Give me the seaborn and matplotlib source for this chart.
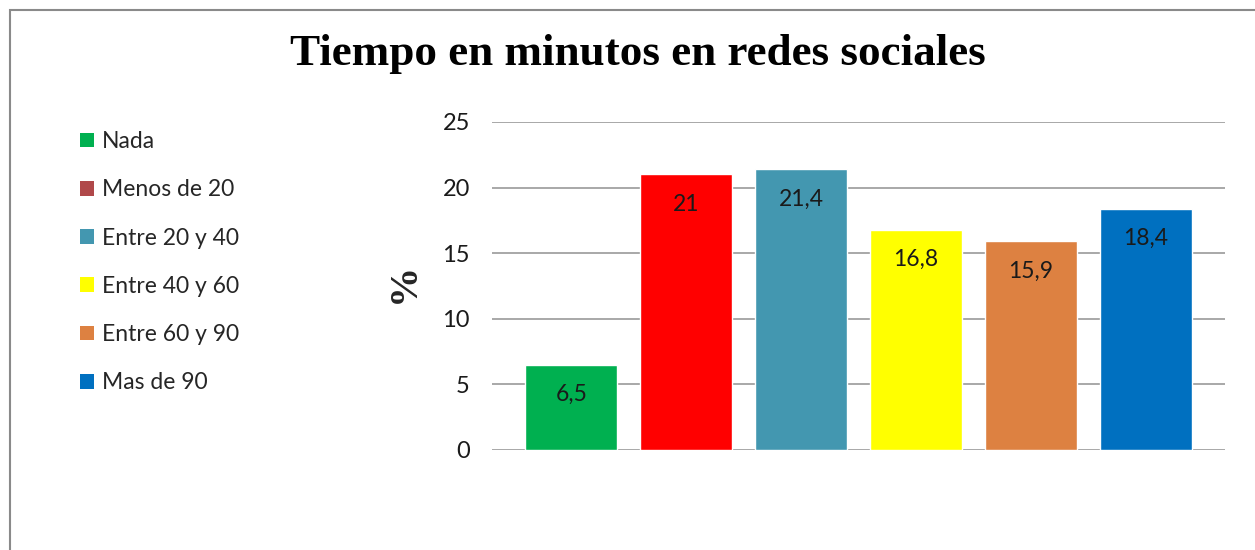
import matplotlib
matplotlib.use("Agg")
import matplotlib.pyplot as plt
import seaborn as sns
import pandas as pd
from matplotlib.patches import Patch, Rectangle

categories = ["Nada", "Menos de 20", "Entre 20 y 40", "Entre 40 y 60", "Entre 60 y 90", "Mas de 90"]
values = [6.5, 21, 21.4, 16.8, 15.9, 18.4]
value_labels = ["6,5", "21", "21,4", "16,8", "15,9", "18,4"]
bar_colors = ["#00B050", "#FF0000", "#4397B0", "#FFFF00", "#DD8141", "#0070C0"]
legend_colors = ["#00B050", "#B0484A", "#4397B0", "#FFFF00", "#DD8141", "#0070C0"]
yticks = [0, 5, 10, 15, 20, 25]

sns.set_theme(style="white")
plt.rcParams['font.family'] = ['Lato', 'DejaVu Sans']

df = pd.DataFrame({"cat": categories, "val": values})

fig = plt.figure(figsize=(12.55, 5.5), dpi=100)
ax = fig.add_axes([492/1255, 1-450/550, (1225-492)/1255, (450-122)/550])

sns.barplot(data=df, x="cat", y="val", hue="cat", palette=bar_colors, order=categories,
            hue_order=categories, width=0.80, legend=False, ax=ax, saturation=1)

ax.set_ylim(0, 25)
ax.set_xlim(-0.69, 5.69)
ax.set_yticks(yticks)
ax.set_yticklabels([str(t) for t in yticks], fontsize=17, color="#1a1a1a")
ax.set_xticks([])
ax.set_xlabel("")
ax.set_ylabel("%", fontsize=29, fontweight="bold", family="Liberation Serif")
ax.yaxis.set_label_coords(-0.094, 0.509)
ax.yaxis.grid(True, color="#9a9a9a", linewidth=1.2)
ax.set_axisbelow(True)
for s in ["top", "right", "left", "bottom"]:
    ax.spines[s].set_visible(False)
ax.tick_params(axis="y", length=0, pad=16)

for i, (v, lab) in enumerate(zip(values, value_labels)):
    ax.annotate(lab, xy=(i, v), xytext=(0, -30), textcoords="offset pixels",
                ha="center", va="center", fontsize=16.5, color="#1a1a1a")

handles = [Patch(facecolor=c, edgecolor="none", label=l) for c, l in zip(legend_colors, categories)]
fig.legend(handles=handles, loc="upper left", bbox_to_anchor=(80/1255, 1-131/550),
           frameon=False, fontsize=16.5, handlelength=0.62, handleheight=0.62,
           handletextpad=0.35, labelspacing=1.19, borderaxespad=0, borderpad=0)

fig.text(0.508, 1-54/550, "Tiempo en minutos en redes sociales", ha="center", va="center",
         fontsize=32.5, fontweight="bold", family="Liberation Serif", color="#000000")

fig.patches.append(Rectangle((10/1255, -0.05), 1.1, 1-10/550+0.05, transform=fig.transFigure,
                             fill=False, edgecolor="#8a8a8a", linewidth=1.5))

fig.savefig("out.png", dpi=100)
